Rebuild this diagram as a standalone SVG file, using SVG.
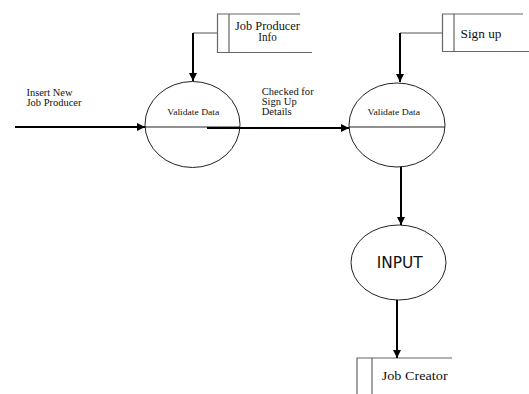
<svg xmlns="http://www.w3.org/2000/svg" width="529" height="394" viewBox="0 0 529 394">
  <defs>
    <marker id="arrow" markerWidth="8" markerHeight="8" refX="8" refY="4" orient="auto" markerUnits="userSpaceOnUse">
      <path d="M0,0 L8,4 L0,8 Z" fill="#000"/>
    </marker>
  </defs>
  <style>
    .proc { fill: #fff; stroke: #222; stroke-width: 1; }
    .divider { stroke: #222; stroke-width: 1; }
    .store { fill: none; stroke: #666; stroke-width: 1.2; }
    .flow { fill: none; stroke: #000; stroke-width: 2; }
    .link { fill: none; stroke: #555; stroke-width: 1; }
    .serif { font-family: "Liberation Serif", "Times New Roman", serif; fill: #111; }
    .sans { font-family: "DejaVu Sans", "Liberation Sans", sans-serif; fill: #111; }
  </style>
  <rect width="529" height="394" fill="#fff"/>

  <!-- process: validate data (producer) -->
  <g id="validate-producer">
    <ellipse class="proc" cx="192.5" cy="124.5" rx="47.5" ry="43"/>
    <line class="divider" x1="145" y1="127" x2="240" y2="127"/>
    <text class="serif" x="167.3" y="115" font-size="8.5" textLength="52" lengthAdjust="spacingAndGlyphs">Validate Data</text>
  </g>

  <!-- process: validate data (sign up) -->
  <g id="validate-signup">
    <ellipse class="proc" cx="397" cy="125" rx="48" ry="42"/>
    <line class="divider" x1="349" y1="127" x2="445" y2="127"/>
    <text class="serif" x="367.5" y="115" font-size="8.5" textLength="52.5" lengthAdjust="spacingAndGlyphs">Validate Data</text>
  </g>

  <!-- process: input -->
  <g id="input">
    <ellipse class="proc" cx="398.5" cy="262.5" rx="47.5" ry="37.5"/>
    <text class="sans" x="376.7" y="268.3" font-size="15" textLength="46" lengthAdjust="spacingAndGlyphs">INPUT</text>
  </g>

  <!-- data store: job producer info -->
  <g id="store-job-producer-info">
    <path class="store" d="M300,14 L217.5,14 L217.5,52.5 L312,52.5 M229,14 L229,52.5"/>
    <text class="serif" x="235" y="29.5" font-size="11.5" textLength="65" lengthAdjust="spacingAndGlyphs">Job Producer</text>
    <text class="serif" x="258.3" y="41.3" font-size="11.5" textLength="18.5" lengthAdjust="spacingAndGlyphs">Info</text>
  </g>

  <!-- data store: sign up -->
  <g id="store-sign-up">
    <path class="store" d="M523,14 L442.5,14 L442.5,51.5 L529,51.5 M454,14 L454,51.5"/>
    <text class="serif" x="460.5" y="37.5" font-size="12" textLength="41" lengthAdjust="spacingAndGlyphs">Sign up</text>
  </g>

  <!-- data store: job creator -->
  <g id="store-job-creator">
    <path class="store" d="M452,358 L357,358 L357,394 M372,358 L372,394"/>
    <text class="serif" x="381.7" y="379.5" font-size="12" textLength="66" lengthAdjust="spacingAndGlyphs">Job Creator</text>
  </g>

  <!-- connectors (drawn over the processes) -->
  <g id="connectors">
    <path class="flow" d="M15,127 L145,127" marker-end="url(#arrow)"/>
    <path class="flow" d="M207,128 L349,128" marker-end="url(#arrow)"/>
    <path class="link" d="M217,33 L193,33"/>
    <path class="flow" d="M193,33 L193,81" marker-end="url(#arrow)"/>
    <path class="link" d="M442,33 L400,33"/>
    <path class="flow" d="M400,33 L400,82" marker-end="url(#arrow)"/>
    <path class="flow" d="M401,167 L401,225" marker-end="url(#arrow)"/>
    <path class="flow" d="M397,300 L397,358" marker-end="url(#arrow)"/>
  </g>

  <!-- flow labels -->
  <g id="labels" class="serif" font-size="10">
    <text x="26.5" y="95.5" textLength="46" lengthAdjust="spacingAndGlyphs">Insert New</text>
    <text x="26.5" y="105.5" textLength="55" lengthAdjust="spacingAndGlyphs">Job Producer</text>
    <text x="261.7" y="95" textLength="52" lengthAdjust="spacingAndGlyphs">Checked for</text>
    <text x="261.7" y="105" textLength="35" lengthAdjust="spacingAndGlyphs">Sign Up</text>
    <text x="261.7" y="115" textLength="30" lengthAdjust="spacingAndGlyphs">Details</text>
  </g>
</svg>
